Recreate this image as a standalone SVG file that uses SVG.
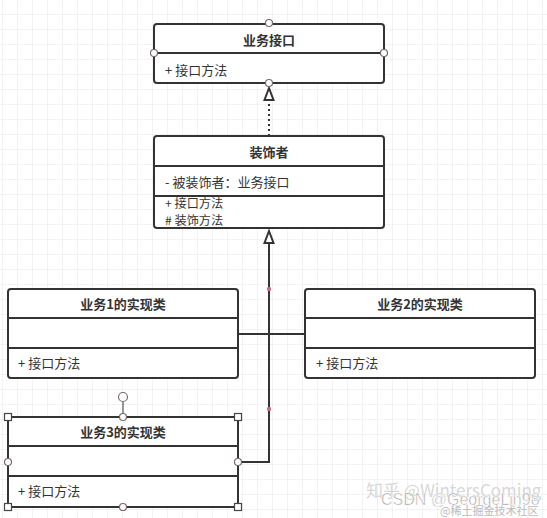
<svg xmlns="http://www.w3.org/2000/svg" width="547" height="518" viewBox="0 0 547 518">
<defs>
<pattern id="grid" width="15" height="15" patternUnits="userSpaceOnUse" x="3" y="0">
<path d="M15 0V15M0 15H15" fill="none" stroke="#e6e6e6" stroke-width="1"/>
</pattern>
<style>
.box{fill:#fff;stroke:#333;stroke-width:2}
.sep{stroke:#333;stroke-width:2}
.t{font-family:"Microsoft YaHei","Noto Sans CJK SC",sans-serif;font-size:13px;font-weight:bold;fill:#333;text-anchor:middle}
.m{font-family:"Microsoft YaHei","Noto Sans CJK SC",sans-serif;font-size:13px;fill:#333}
.s{font-size:12.2px}
.pt{fill:#fff;stroke:#7a6a6a;stroke-width:1.2}
.hd{fill:#fff;stroke:#444;stroke-width:1.2}
.rd{fill:#c07080}
.ln{fill:none;stroke:#333;stroke-width:2}
.ah{fill:#fff;stroke:#333;stroke-width:2;stroke-linejoin:miter}
</style>
</defs>
<rect width="547" height="518" fill="#fff"/>
<rect width="547" height="518" fill="url(#grid)"/>

<g id="connectors">
<path class="ln" d="M269 136 V101" stroke-dasharray="2,3"/>
<polygon class="ah" points="269,88 273.5,100 264.5,100"/>
<path class="ln" d="M238 462 H269 V244"/>
<polygon class="ah" points="269,231 273.5,243 264.5,243"/>
<path class="ln" d="M238 334 H305" stroke-width="1.6"/>
<circle class="rd" cx="269" cy="289" r="2.2"/>
<circle class="rd" cx="269" cy="409" r="2.2"/>
</g>

<g id="interface">
<rect class="box" x="154" y="24" width="230" height="59" rx="3"/>
<line class="sep" x1="154" y1="53" x2="384" y2="53"/>
<text class="t" x="269" y="45">业务接口</text>
<text class="m" x="165" y="75">+ 接口方法</text>
<circle class="pt" cx="269" cy="23" r="3.5"/>
<circle class="pt" cx="154" cy="53" r="3.5"/>
<circle class="pt" cx="384" cy="53" r="3.5"/>
<circle class="pt" cx="269" cy="83" r="3.5"/>
</g>

<g id="decorator">
<rect class="box" x="154" y="136" width="230" height="92" rx="3"/>
<line class="sep" x1="154" y1="166" x2="384" y2="166"/>
<line class="sep" x1="154" y1="196" x2="384" y2="196"/>
<text class="t" x="269" y="157">装饰者</text>
<text class="m" x="165" y="187">- 被装饰者：业务接口</text>
<text class="m s" x="165" y="208">+ 接口方法</text>
<text class="m s" x="165" y="224.5"># 装饰方法</text>
</g>

<g id="impl1">
<rect class="box" x="8" y="289" width="230" height="89" rx="3"/>
<line class="sep" x1="8" y1="318" x2="238" y2="318"/>
<line class="sep" x1="8" y1="348" x2="238" y2="348"/>
<text class="t" x="123" y="309">业务1的实现类</text>
<text class="m" x="18" y="368">+ 接口方法</text>
</g>

<g id="impl2">
<rect class="box" x="305" y="289" width="230" height="89" rx="3"/>
<line class="sep" x1="305" y1="318" x2="535" y2="318"/>
<line class="sep" x1="305" y1="348" x2="535" y2="348"/>
<text class="t" x="420" y="309">业务2的实现类</text>
<text class="m" x="316" y="368">+ 接口方法</text>
</g>

<g id="impl3">
<rect class="box" x="8" y="417" width="230" height="90" rx="1"/>
<line class="sep" x1="8" y1="446" x2="238" y2="446"/>
<line class="sep" x1="8" y1="476" x2="238" y2="476"/>
<text class="t" x="123" y="437">业务3的实现类</text>
<text class="m" x="18" y="496">+ 接口方法</text>
<line x1="123" y1="402" x2="123" y2="417" stroke="#555" stroke-width="1.2"/>
<circle class="pt" cx="123" cy="397" r="4.5"/>
<rect class="hd" x="4.5" y="413.5" width="7" height="7"/>
<rect class="hd" x="234.5" y="413.5" width="7" height="7"/>
<rect class="hd" x="4.5" y="503.5" width="7" height="7"/>
<rect class="hd" x="234.5" y="503.5" width="7" height="7"/>
<circle class="pt" cx="123" cy="417" r="3.5"/>
<circle class="pt" cx="8" cy="462" r="3.5"/>
<circle class="pt" cx="238" cy="462" r="3.5"/>
<circle class="pt" cx="123" cy="507" r="3.5"/>
</g>

<g id="watermark">
<text x="366" y="497" font-family="'Noto Sans CJK SC',sans-serif" font-size="17" fill="#d8d8d8">知乎 @WintersComing</text>
<text x="381" y="505" font-family="'Liberation Sans',sans-serif" font-size="16" fill="#999" stroke="#fff" stroke-width="0.6">CSDN @GeorgeLin98</text>
<text x="440" y="515" font-family="'Noto Sans CJK SC',sans-serif" font-size="11" fill="#bbb">@稀土掘金技术社区</text>
</g>
</svg>
